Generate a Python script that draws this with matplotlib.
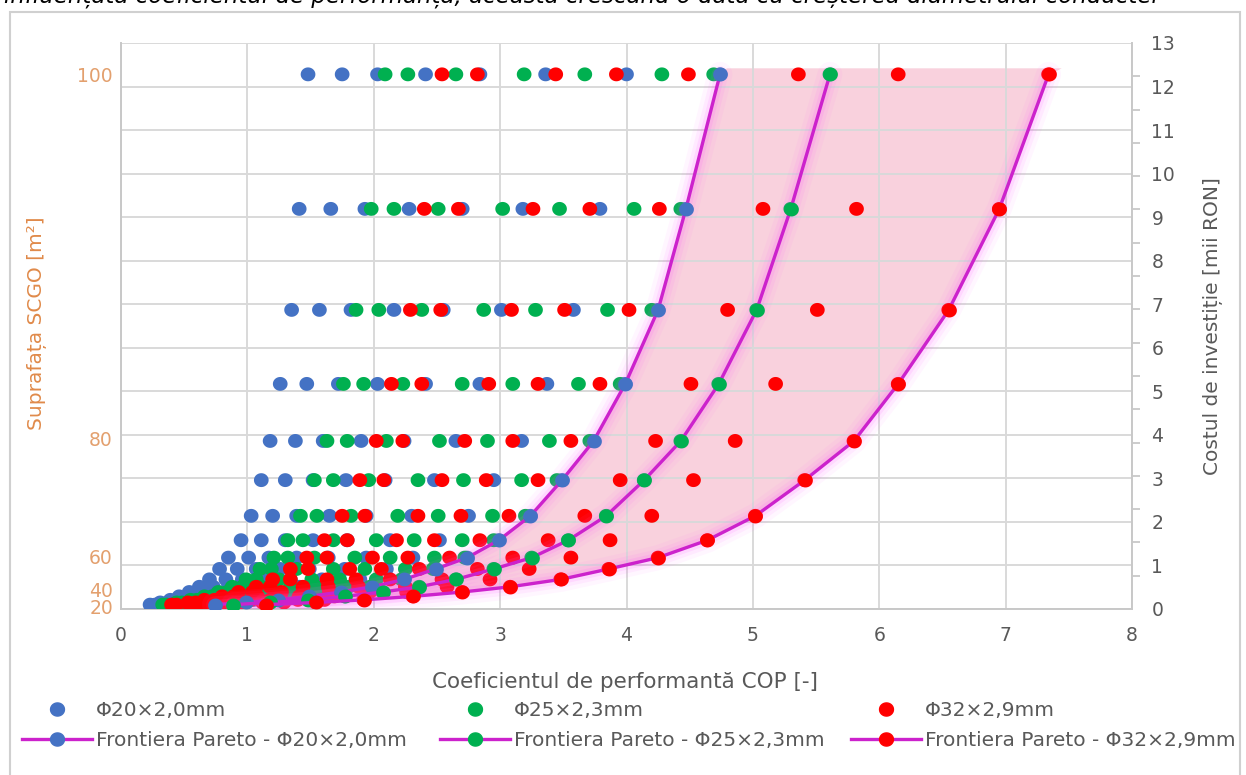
import numpy as np
import matplotlib
matplotlib.use("Agg")
import matplotlib.pyplot as plt
from matplotlib.lines import Line2D
from matplotlib.patches import Rectangle
from matplotlib.path import Path

# ---------------- data ----------------
areas = [100, 95, 90, 85, 80, 75, 70, 65, 60, 55, 50, 45, 40, 35, 30, 25, 20]   # m2
cost = [12.28, 9.19, 6.87, 5.17, 3.86, 2.96, 2.14, 1.58, 1.18, 0.92, 0.68,
        0.51, 0.39, 0.29, 0.21, 0.15, 0.10]                                     # mii RON

cop_d20 = [
    [1.48, 1.75, 2.03, 2.41, 2.84, 3.36, 4.00, 4.74],
    [1.41, 1.66, 1.93, 2.28, 2.70, 3.18, 3.79, 4.47],
    [1.35, 1.57, 1.82, 2.16, 2.55, 3.01, 3.58, 4.25],
    [1.26, 1.47, 1.72, 2.03, 2.41, 2.84, 3.37, 3.99],
    [1.18, 1.38, 1.60, 1.90, 2.24, 2.65, 3.17, 3.74],
    [1.11, 1.30, 1.52, 1.78, 2.09, 2.48, 2.95, 3.49],
    [1.03, 1.20, 1.39, 1.65, 1.94, 2.30, 2.75, 3.24],
    [0.95, 1.11, 1.30, 1.52, 1.79, 2.13, 2.52, 2.99],
    [0.85, 1.01, 1.17, 1.39, 1.64, 1.94, 2.31, 2.74],
    [0.78, 0.92, 1.07, 1.26, 1.49, 1.77, 2.10, 2.49],
    [0.70, 0.83, 0.96, 1.14, 1.34, 1.59, 1.89, 2.24],
    [0.62, 0.73, 0.85, 1.01, 1.19, 1.41, 1.68, 1.99],
    [0.54, 0.64, 0.74, 0.88, 1.04, 1.23, 1.47, 1.74],
    [0.46, 0.55, 0.64, 0.76, 0.89, 1.06, 1.26, 1.49],
    [0.39, 0.46, 0.53, 0.63, 0.74, 0.88, 1.05, 1.24],
    [0.31, 0.37, 0.42, 0.50, 0.59, 0.70, 0.84, 0.99],
    [0.23, 0.27, 0.32, 0.38, 0.44, 0.52, 0.62, 0.74],
]
cop_d25 = [
    [2.09, 2.27, 2.65, 3.19, 3.67, 4.28, 4.69, 5.61],
    [1.98, 2.16, 2.51, 3.02, 3.47, 4.06, 4.43, 5.30],
    [1.86, 2.04, 2.38, 2.87, 3.28, 3.85, 4.20, 5.03],
    [1.76, 1.92, 2.23, 2.70, 3.10, 3.62, 3.95, 4.73],
    [1.63, 1.79, 2.10, 2.52, 2.90, 3.39, 3.71, 4.43],
    [1.53, 1.68, 1.96, 2.35, 2.71, 3.17, 3.45, 4.14],
    [1.42, 1.55, 1.82, 2.19, 2.51, 2.94, 3.20, 3.84],
    [1.32, 1.44, 1.68, 2.02, 2.32, 2.70, 2.95, 3.54],
    [1.21, 1.32, 1.53, 1.85, 2.13, 2.48, 2.72, 3.25],
    [1.10, 1.19, 1.39, 1.68, 1.93, 2.25, 2.47, 2.95],
    [0.99, 1.07, 1.25, 1.51, 1.73, 2.02, 2.22, 2.65],
    [0.88, 0.96, 1.11, 1.34, 1.54, 1.80, 1.97, 2.36],
    [0.77, 0.84, 0.98, 1.18, 1.35, 1.58, 1.73, 2.07],
    [0.66, 0.72, 0.84, 1.01, 1.16, 1.35, 1.48, 1.77],
    [0.55, 0.60, 0.70, 0.84, 0.97, 1.13, 1.24, 1.48],
    [0.44, 0.48, 0.56, 0.67, 0.77, 0.90, 0.99, 1.18],
    [0.33, 0.36, 0.42, 0.51, 0.58, 0.68, 0.74, 0.89],
]
cop_d32 = [
    [2.54, 2.82, 3.44, 3.92, 4.49, 5.36, 6.15, 7.34],
    [2.40, 2.67, 3.26, 3.71, 4.26, 5.08, 5.82, 6.95],
    [2.29, 2.53, 3.09, 3.51, 4.02, 4.80, 5.51, 6.55],
    [2.14, 2.38, 2.91, 3.30, 3.79, 4.51, 5.18, 6.15],
    [2.02, 2.23, 2.72, 3.10, 3.56, 4.23, 4.86, 5.80],
    [1.89, 2.08, 2.54, 2.89, 3.30, 3.95, 4.53, 5.41],
    [1.75, 1.93, 2.35, 2.69, 3.07, 3.67, 4.20, 5.02],
    [1.61, 1.79, 2.18, 2.48, 2.84, 3.38, 3.87, 4.64],
    [1.47, 1.63, 1.99, 2.27, 2.60, 3.10, 3.56, 4.25],
    [1.34, 1.48, 1.81, 2.06, 2.36, 2.82, 3.23, 3.86],
    [1.20, 1.34, 1.63, 1.86, 2.13, 2.54, 2.92, 3.48],
    [1.07, 1.18, 1.44, 1.64, 1.88, 2.25, 2.58, 3.08],
    [0.93, 1.04, 1.27, 1.44, 1.65, 1.97, 2.26, 2.70],
    [0.80, 0.89, 1.08, 1.23, 1.41, 1.69, 1.94, 2.31],
    [0.66, 0.74, 0.90, 1.03, 1.18, 1.40, 1.61, 1.92],
    [0.53, 0.59, 0.72, 0.82, 0.94, 1.12, 1.29, 1.54],
    [0.40, 0.44, 0.54, 0.61, 0.70, 0.84, 0.96, 1.15],
]

series_labels = ["Φ20×2,0mm", "Φ25×2,3mm", "Φ32×2,9mm"]
pareto_labels = ["Frontiera Pareto - Φ20×2,0mm", "Frontiera Pareto - Φ25×2,3mm",
                 "Frontiera Pareto - Φ32×2,9mm"]
x_ticks = [0, 1, 2, 3, 4, 5, 6, 7, 8]
right_ticks = list(range(0, 14))
left_labels = ["20", "40", "60", "80", "100"]
left_label_pos = [0.0, 0.41, 1.17, 3.88, 12.24]

# ---------------- styling ----------------
W, H = 1246, 775
plt.rcParams["font.family"] = ["DejaVu Sans"]
GRAY = "#595959"
GRID = "#D9D9D9"
colors = ["#4472C4", "#00B050", "#FF0000"]
LINE = "#CC22CC"
ORANGE_T = "#E3A06E"
ORANGE_L = "#E08A4A"

# very slightly wide dot (the reference is a little stretched horizontally)
_t = np.linspace(0, 2 * np.pi, 64)
DOT = Path(np.column_stack([1.06 * np.cos(_t), np.sin(_t)]), closed=True)

fig = plt.figure(figsize=(W / 100, H / 100), dpi=100)
fig.patch.set_facecolor("white")

def px(x, y):
    return x / W, 1 - y / H

# outer chart border
fig.patches.append(Rectangle(px(10, 780), (1240 - 10) / W, (780 - 12) / H,
                             transform=fig.transFigure, fill=False,
                             edgecolor="#D0D0D0", lw=1.5))

# cut-off document text above the chart
fig.text(px(4, 0)[0], px(0, 3)[1],
         "influențată coeficientul de performanță, aceasta crescând o dată cu creșterea diametrului conductei",
         fontsize=16.5, style="italic", color="black", va="baseline", ha="left")

x0, y0 = px(121, 609)
x1, y1 = px(1132, 43)
ax = fig.add_axes([x0, y0, x1 - x0, y1 - y0])
ax.set_xlim(0, 8)
ax.set_ylim(0, 13)

# grid
ax.set_axisbelow(True)
ax.set_xticks(x_ticks)
ax.set_yticks(right_ticks)
ax.grid(True, color=GRID, lw=1.4, zorder=0.5)
for s in ["left", "bottom", "right"]:
    ax.spines[s].set_color("#C8C8C8")
    ax.spines[s].set_linewidth(1.4)
ax.spines["top"].set_visible(False)

# frontier values (max COP per row)
fronts = [[max(r) for r in d] for d in (cop_d20, cop_d25, cop_d32)]

# pink Pareto band between smallest and largest pipe frontier
fill_top = 12.43
yy = [fill_top] + cost
xl = [fronts[0][0] + 0.05] + fronts[0]
xr = [fronts[2][0] + 0.1] + fronts[2]
ax.fill_betweenx(yy, xl, xr, color="#F9D1DD", lw=0, zorder=0.3)

# scatter points
for d, c in zip((cop_d20, cop_d25, cop_d32), colors):
    xs = [v for row in d for v in row]
    ys = [cst for row, cst in zip(d, cost) for _ in row]
    ax.scatter(xs, ys, s=112, marker=DOT, color=c, edgecolors="none", zorder=3)

# Pareto frontiers with a soft glow
for f, c in zip(fronts, colors):
    for lw, a in [(18, 0.05), (12, 0.08), (7, 0.12)]:
        ax.plot(f, cost, color="#FF55FF", lw=lw, alpha=a, zorder=3.5,
                solid_capstyle="round", solid_joinstyle="round")
    ax.plot(f, cost, color=LINE, lw=2.4, zorder=4, marker=DOT, ms=10.6,
            mfc=c, mec=c, mew=0)

# axes ticks
ax.tick_params(axis="x", length=0, pad=12, labelsize=13.5, labelcolor=GRAY)
ax.yaxis.tick_right()
ax.tick_params(axis="y", which="major", length=0, pad=14, labelsize=13.5,
               labelcolor=GRAY, left=False, right=True)
ax.set_yticks(np.linspace(0, 13, 18), minor=True)
ax.tick_params(axis="y", which="minor", length=6, width=1.3, color="#C8C8C8",
               right=True, left=False, direction="out")

# left (area) labels
for lab, pos in zip(left_labels, left_label_pos):
    ax.text(-0.008, pos, lab, transform=ax.get_yaxis_transform(), ha="right",
            va="center", fontsize=13.5, color=ORANGE_T)

# axis titles
fig.text(*px(625, 682), "Coeficientul de performantă COP [-]", ha="center",
         va="center", fontsize=15.5, color=GRAY)
fig.text(*px(1213, 326), "Costul de investiție [mii RON]", ha="center",
         va="center", rotation=90, fontsize=14.5, color=GRAY)
fig.text(*px(37, 323), "Suprafața SCGO [m²]", ha="center", va="center",
         rotation=90, fontsize=14.5, color=ORANGE_L)

# legend: three columns, each a scatter entry above a frontier entry
col_x = [22, 440, 851]
for i in range(3):
    h1 = Line2D([], [], ls="none", marker=DOT, ms=10, mfc=colors[i], mec=colors[i])
    h2 = Line2D([], [], color=LINE, lw=2.4, marker=DOT, ms=10, mfc=colors[i],
                mec=colors[i])
    fig.legend([h1, h2], [series_labels[i], pareto_labels[i]], loc="upper left",
               bbox_to_anchor=px(col_x[i], 701), frameon=False, fontsize=14.5,
               handlelength=3.5, handletextpad=0.15, labelspacing=0.55,
               borderpad=0, borderaxespad=0, labelcolor=GRAY)

fig.savefig("out.png", dpi=100, facecolor="white")
